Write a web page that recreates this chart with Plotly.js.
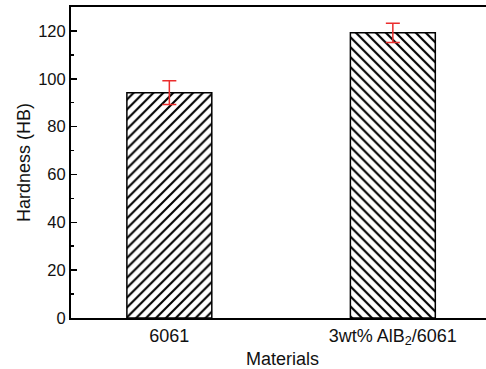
<!DOCTYPE html>
<html>
<head>
<meta charset="utf-8">
<script src="https://cdn.plot.ly/plotly-3.0.1.min.js"></script>
<style>
html,body{margin:0;padding:0;overflow:hidden;background:#fff;}
#chart{width:494px;height:369px;}
</style>
</head>
<body>
<div id="chart"></div>
<script>
const categories = ["6061", "3wt% AlB<sub>2</sub>/6061"];
const hardness = [94.2, 119.2];
const hardnessErr = [5, 4];
const hatchShapes = ["/", "\\"];
const hatchSizes = [7, 7.05];
const yTicks = [0, 20, 40, 60, 80, 100, 120];

const traces = categories.map((c, i) => ({
  type: 'bar',
  x: [i],
  y: [hardness[i]],
  width: 0.38,
  uid: 'bar' + i,
  marker: {
    color: 'white',
    line: {color: 'black', width: 1.5},
    pattern: {shape: hatchShapes[i], size: hatchSizes[i], solidity: 0.3, fgcolor: i ? '#000001' : '#000000', bgcolor: 'white'}
  },
  error_y: {type: 'data', array: [hardnessErr[i]], visible: true, color: 'rgb(235,45,45)', thickness: 1.5, width: 7},
  showlegend: false,
  hoverinfo: 'none'
}));

const layout = {
  width: 494, height: 369,
  margin: {l: 71, r: 0, t: 7, b: 51},
  paper_bgcolor: 'white', plot_bgcolor: 'white',
  font: {family: 'Liberation Sans, Arial, sans-serif', size: 17, color: '#111111'},
  bargap: 0,
  xaxis: {
    range: [-0.44, 1.4526],
    tickvals: [0, 1],
    ticktext: categories,
    ticks: '',
    showgrid: false, zeroline: false,
    showline: true, linecolor: 'black', linewidth: 2, mirror: true,
    title: {text: 'Materials', standoff: 11, font: {size: 18}},
    tickfont: {size: 18}
  },
  yaxis: {
    range: [0, 130],
    tickvals: yTicks,
    ticks: 'inside', ticklen: 6, tickwidth: 1.5, tickcolor: 'black',
    minor: {dtick: 10, tick0: 0, ticks: 'inside', ticklen: 3, tickwidth: 1.5, tickcolor: 'black'},
    showgrid: false, zeroline: false,
    showline: true, linecolor: 'black', linewidth: 2, mirror: false,
    title: {text: 'Hardness (HB)', standoff: 3, font: {size: 18}},
    tickfont: {size: 16.5}
  }
};

Plotly.newPlot('chart', traces, layout, {displayModeBar: false, staticPlot: true});
</script>
</body>
</html>
